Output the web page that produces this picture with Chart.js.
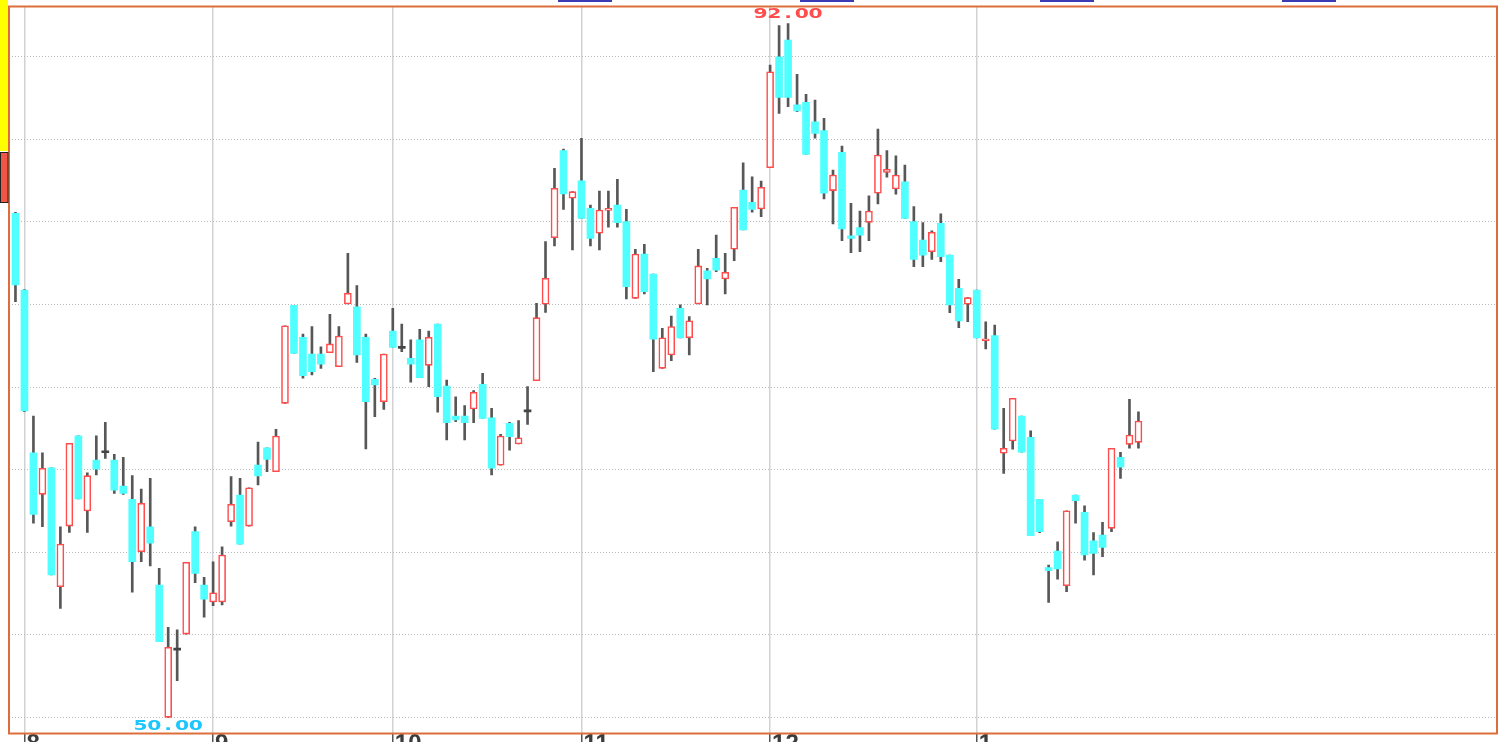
<!DOCTYPE html>
<html>
<head>
<meta charset="utf-8">
<script src="https://cdn.jsdelivr.net/npm/chart.js@4.4.0/dist/chart.umd.min.js"></script>
<style>
  html, body { margin: 0; padding: 0; background: #fff; }
  #wrap { width: 1499px; height: 742px; }
</style>
</head>
<body>
<div id="wrap"><canvas id="chart"></canvas></div>
<script>
// daily candles, one per trading day (index 0 = last day of July)
const opens = [
  80.52, 75.87, 66.02, 63.50, 65.10, 57.91, 61.58, 67.05, 62.49, 65.58,
  66.02, 65.58, 64.00, 63.20, 60.03, 61.54, 58.01, 50.00, 54.07, 55.04,
  61.24, 58.01, 56.98, 56.98, 61.84, 63.46, 61.58, 65.28, 66.31, 64.87,
  69.01, 74.95, 73.01, 72.00, 72.00, 72.08, 71.23, 75.03, 74.86, 73.01,
  70.47, 69.11, 73.39, 72.34, 71.74, 72.85, 71.31, 73.81, 70.06, 68.24,
  68.24, 68.67, 70.16, 68.14, 65.26, 67.80, 66.55, 68.49, 70.38, 75.01,
  79.04, 84.31, 81.43, 82.49, 80.82, 79.31, 80.70, 81.02, 80.01, 75.37,
  78.05, 76.84, 71.13, 71.94, 74.77, 72.98, 75.03, 77.04, 77.79, 76.54,
  78.34, 81.93, 81.18, 80.78, 83.28, 90.00, 91.01, 87.08, 87.24, 86.06,
  85.52, 81.89, 84.21, 79.16, 79.65, 79.97, 81.73, 83.00, 81.99, 82.43,
  80.01, 78.90, 78.19, 79.91, 77.99, 75.98, 75.01, 75.87, 72.80, 73.11,
  65.99, 66.73, 68.24, 66.95, 63.20, 59.06, 60.07, 57.97, 63.46, 62.41,
  60.69, 61.04, 61.44, 65.74, 66.53, 66.65
];
const highs = [
  80.58, 75.90, 68.24, 66.02, 65.10, 61.54, 66.59, 67.05, 64.81, 67.05,
  67.86, 65.92, 65.74, 64.63, 63.82, 64.47, 59.02, 55.45, 55.29, 59.39,
  61.54, 58.48, 59.42, 60.33, 64.57, 64.47, 63.90, 66.67, 66.31, 67.43,
  73.71, 74.95, 73.21, 73.66, 72.44, 74.40, 73.66, 78.10, 76.14, 73.21,
  70.53, 72.00, 74.77, 73.81, 72.85, 73.49, 73.39, 73.81, 70.42, 69.41,
  68.87, 69.78, 70.83, 68.71, 67.14, 67.86, 67.96, 70.02, 75.07, 78.80,
  83.24, 84.41, 81.83, 85.06, 81.02, 81.87, 81.87, 82.58, 80.76, 78.34,
  78.64, 76.84, 73.55, 74.30, 74.97, 74.26, 78.34, 77.19, 79.20, 78.10,
  80.88, 83.58, 82.73, 82.47, 89.50, 91.88, 92.00, 88.93, 87.72, 87.38,
  86.27, 83.14, 84.59, 81.12, 80.66, 81.57, 85.62, 84.31, 84.00, 83.44,
  80.92, 79.95, 79.46, 80.48, 77.99, 76.52, 75.41, 75.87, 73.95, 73.75,
  68.71, 69.32, 68.24, 67.34, 63.20, 59.22, 60.63, 62.51, 63.46, 62.81,
  61.18, 61.81, 66.29, 66.05, 69.26, 68.50
];
const lows = [
  75.17, 68.50, 61.75, 61.54, 58.62, 56.60, 61.20, 63.22, 61.20, 64.67,
  65.68, 63.56, 63.50, 57.57, 59.42, 59.16, 54.58, 50.00, 52.22, 55.04,
  58.15, 56.06, 56.76, 56.80, 61.58, 60.48, 61.58, 64.07, 64.87, 64.87,
  69.01, 72.04, 70.53, 70.73, 71.13, 72.08, 71.23, 75.03, 71.49, 66.25,
  68.20, 68.65, 72.40, 72.14, 70.29, 70.56, 70.02, 68.47, 66.79, 67.90,
  66.79, 67.84, 68.10, 64.67, 65.26, 66.18, 66.55, 67.74, 70.38, 74.52,
  78.54, 80.76, 78.30, 80.21, 78.54, 78.30, 79.68, 79.68, 75.33, 75.37,
  75.63, 70.93, 71.13, 71.59, 72.98, 71.94, 75.03, 74.97, 76.98, 75.63,
  77.65, 79.51, 80.58, 80.32, 83.28, 86.57, 86.97, 86.67, 84.09, 85.06,
  81.39, 79.87, 78.86, 78.13, 78.19, 78.86, 81.08, 82.70, 81.67, 80.21,
  77.28, 77.28, 77.73, 77.59, 74.50, 73.59, 73.95, 72.98, 72.30, 67.44,
  64.77, 66.23, 66.05, 61.00, 61.18, 56.96, 58.36, 57.61, 61.75, 59.52,
  58.62, 59.72, 61.24, 64.47, 66.29, 66.29
];
const closes = [
  76.18, 68.55, 62.29, 65.08, 58.62, 60.49, 66.59, 63.22, 64.63, 65.03,
  66.02, 63.76, 63.56, 59.42, 62.96, 60.54, 54.58, 54.24, 54.07, 59.39,
  58.72, 57.15, 57.54, 59.83, 62.90, 60.48, 63.90, 64.61, 65.62, 67.03,
  73.71, 72.04, 70.68, 70.93, 71.39, 72.61, 73.09, 75.68, 71.94, 69.11,
  70.12, 72.00, 72.40, 72.34, 71.39, 70.56, 73.01, 69.41, 67.84, 68.00,
  67.84, 69.68, 68.10, 65.08, 67.03, 66.99, 66.93, 68.49, 74.20, 76.58,
  82.03, 81.69, 81.83, 80.21, 79.00, 80.72, 80.82, 79.95, 76.07, 78.05,
  75.77, 72.89, 72.98, 73.66, 72.98, 74.01, 77.33, 76.54, 77.08, 76.95,
  80.88, 79.51, 80.76, 82.09, 89.09, 87.54, 87.54, 86.71, 84.09, 85.36,
  81.73, 82.84, 79.57, 79.00, 79.20, 80.66, 84.05, 83.18, 82.84, 80.21,
  77.73, 77.99, 79.37, 77.89, 74.97, 74.00, 75.41, 72.98, 72.89, 67.44,
  66.29, 69.32, 66.05, 61.00, 61.24, 58.88, 58.98, 62.51, 63.12, 59.83,
  59.93, 60.29, 66.29, 65.14, 67.09, 67.94
];

// first trading day of each month and its label
const monthStarts = [1, 22, 42, 63, 84, 107];
const monthLabels = ['8', '9', '10', '11', '12', '1'];
const priceTicks = [50, 55, 60, 65, 70, 75, 80, 85, 90];

const UP = '#ff4d4d';
const DOWN = '#50ffff';
const FLAT = '#444444';
const WICK = '#575757';

function bodyFill(i) {
    if (closes[i] > opens[i]) return '#ffffff';
    if (closes[i] < opens[i]) return DOWN;
    return FLAT;
}

function bodyBorder(i) {
    return closes[i] > opens[i] ? UP : 'rgba(0,0,0,0)';
}

const bodies = opens.map((o, i) => ({ x: i, y: [o, closes[i]] }));
const wicks = lows.map((l, i) => ({ x: i, y: [l, highs[i]] }));

// wide, fixed-pitch label text centred on cx
function drawSpaced(ctx, text, cx, baseline, color) {
    const step = 13.8;
    ctx.font = 'bold 14px "DejaVu Sans"';
    ctx.fillStyle = color;
    ctx.textAlign = 'center';
    ctx.textBaseline = 'alphabetic';
    const start = cx - (text.length - 1) * step / 2;
    for (let k = 0; k < text.length; k++) {
        ctx.save();
        ctx.translate(start + k * step, baseline);
        ctx.scale(1.45, 1);
        ctx.fillText(text[k], 0, 0);
        ctx.restore();
    }
}

const decor = {
    id: 'decor',
    beforeDraw(chart) {
        const c = chart.ctx;
        c.save();
        c.fillStyle = '#ffffff';
        c.fillRect(0, 0, chart.width, chart.height);
        c.restore();
    },
    afterDraw(chart) {
        const c = chart.ctx;
        const a = chart.chartArea;
        const xs = chart.scales.x;
        const ys = chart.scales.y;
        c.save();

        // plot frame
        c.strokeStyle = '#dc6e3c';
        c.lineWidth = 2;
        c.strokeRect(a.left, a.top, a.right - a.left, a.bottom - a.top);

        // side markers
        c.fillStyle = '#ffff00';
        c.fillRect(0, 0, 8, 151);
        c.fillStyle = '#f05545';
        c.fillRect(0, 152, 8, 50);
        c.strokeStyle = '#222';
        c.lineWidth = 1;
        c.strokeRect(0.5, 152.5, 7.5, 50);

        // cut-off toolbar above the frame
        c.fillStyle = '#3b3bb5';
        [558, 800, 1040, 1282].forEach(x => c.fillRect(x, 0, 54, 2));

        // max / min labels
        const hi = Math.max(...highs);
        const lo = Math.min(...lows);
        drawSpaced(c, hi.toFixed(2), xs.getPixelForValue(highs.indexOf(hi)), ys.getPixelForValue(hi) - 5.2, '#ff4d4d');
        drawSpaced(c, lo.toFixed(2), xs.getPixelForValue(lows.indexOf(lo)), ys.getPixelForValue(lo) + 12.7, '#1ec6ff');

        c.restore();
    }
};

new Chart(document.getElementById('chart'), {
    type: 'bar',
    data: {
        datasets: [
            {
                label: 'body',
                data: bodies,
                grouped: false,
                barPercentage: 1,
                categoryPercentage: 1,
                maxBarThickness: 7,
                minBarLength: 2,
                borderSkipped: false,
                borderWidth: ctx => closes[ctx.dataIndex] > opens[ctx.dataIndex] ? 1.6 : 0,
                backgroundColor: ctx => bodyFill(ctx.dataIndex),
                borderColor: ctx => bodyBorder(ctx.dataIndex)
            },
            {
                label: 'wick',
                data: wicks,
                grouped: false,
                barPercentage: 1,
                categoryPercentage: 1,
                maxBarThickness: 2,
                borderWidth: 0,
                backgroundColor: WICK
            }
        ]
    },
    options: {
        responsive: true,
        maintainAspectRatio: false,
        devicePixelRatio: 1,
        animation: false,
        events: [],
        layout: { padding: { left: 9, right: 2, top: 6.5, bottom: 0 } },
        plugins: {
            legend: { display: false },
            tooltip: { enabled: false }
        },
        scales: {
            x: {
                type: 'linear',
                min: -0.72,
                max: 164.91,
                offset: false,
                afterFit: s => { s.height = 8.5; },
                afterBuildTicks: s => { s.ticks = monthStarts.map(v => ({ value: v })); },
                ticks: {
                    autoSkip: false,
                    maxRotation: 0,
                    align: 'start',
                    labelOffset: 2,
                    padding: -13,
                    color: '#3c3c3c',
                    font: { family: 'Liberation Sans', size: 24, weight: 'bold' },
                    callback: v => monthLabels[monthStarts.indexOf(v)] ?? ''
                },
                grid: {
                    offset: false,
                    color: '#d2d2d2',
                    lineWidth: 1.5,
                    tickColor: '#555',
                    tickLength: 9,
                    tickWidth: 1.5
                },
                border: { display: false }
            },
            y: {
                min: 49.02,
                max: 93.04,
                afterFit: s => { s.width = 0; },
                afterBuildTicks: s => { s.ticks = priceTicks.map(v => ({ value: v })); },
                ticks: { display: false },
                grid: { color: '#b8b8b8', lineWidth: 1, drawTicks: false },
                border: { display: false, dash: [1, 2] }
            }
        }
    },
    plugins: [decor]
});
</script>
</body>
</html>
